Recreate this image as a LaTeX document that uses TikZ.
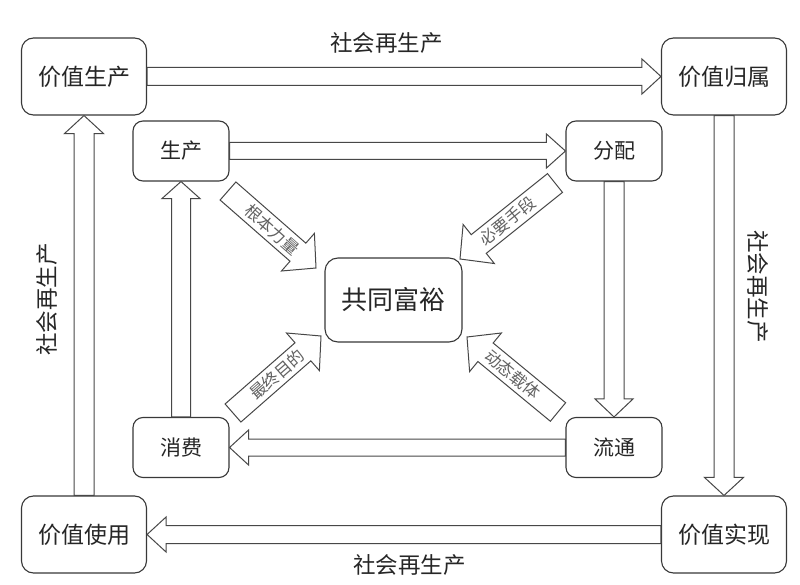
\documentclass[tikz,border=0pt]{standalone}
\usepackage{fontspec}
\setmainfont{Noto Sans CJK SC}
\usetikzlibrary{calc}
\tikzset{
  box/.style={draw=black!78, line width=1.1pt, rounded corners=12pt, fill=white, inner sep=0pt, text=black!85},
  outerbox/.style={box, minimum width=125pt, minimum height=77pt, font=\fontsize{23}{23}\selectfont},
  innerbox/.style={box, rounded corners=10pt, minimum width=96pt, minimum height=60pt, font=\fontsize{21}{21}\selectfont},
  centerbox/.style={box, rounded corners=13pt, minimum width=137pt, minimum height=84pt, font=\fontsize{26}{26}\selectfont},
  harrow/.style={draw=black!72, line width=1pt, fill=white, line join=miter},
  lbl/.style={font=\fontsize{22.5}{22.5}\selectfont, inner sep=0pt, text=black!85},
  arrowtext/.style={font=\fontsize{16.5}{16.5}\selectfont, text=black!62, sloped, inner sep=0pt}
}
\newcommand{\hollowarrow}[5]{%
  \coordinate (hb) at ($(#2)!#5!(#1)$);
  \draw[harrow] ($(#1)!#3!90:(#2)$) -- ($(hb)!#3!-90:(#1)$) -- ($(hb)!#4!-90:(#1)$) -- (#2)
    -- ($(hb)!#4!90:(#1)$) -- ($(hb)!#3!90:(#1)$) -- ($(#1)!#3!-90:(#2)$) -- cycle;
}
\begin{document}
\begin{tikzpicture}[x=1pt,y=-1pt]
\useasboundingbox[fill=white] (0,0) rectangle (800,585);

% outer boxes
\node[outerbox] (vp) at (84,76.5) {价值生产};
\node[outerbox] (vg) at (724,76.5) {价值归属};
\node[outerbox] (vu) at (84,534.5) {价值使用};
\node[outerbox] (vs) at (724,534.5) {价值实现};

% inner boxes
\node[innerbox] (sc) at (181,151) {生产};
\node[innerbox] (fp) at (614,151) {分配};
\node[innerbox] (xf) at (181,447.5) {消费};
\node[innerbox] (lt) at (614,447.5) {流通};

% centre
\node[centerbox] (gt) at (393.5,300) {共同富裕};

% outer arrows
\hollowarrow{vp.east}{vg.west}{9pt}{17.5pt}{19pt}
\hollowarrow{vg.south}{vs.north}{10pt}{19.5pt}{18pt}
\hollowarrow{vs.west}{vu.east}{9pt}{17.5pt}{19pt}
\hollowarrow{vu.north}{vp.south}{10pt}{19.5pt}{18pt}

% inner arrows
\hollowarrow{sc.east}{fp.west}{8.5pt}{17pt}{19pt}
\hollowarrow{fp.south}{lt.north}{10pt}{19pt}{18pt}
\hollowarrow{lt.west}{xf.east}{8.5pt}{17.5pt}{19pt}
\hollowarrow{xf.north}{sc.south}{9.5pt}{19pt}{17pt}

% labels
\node[lbl] (l1) at (386.5,43) {社会再生产};
\node[lbl, rotate=-90] (l2) at (758,286.5) {社会再生产};
\node[lbl] (l3) at (409.5,565) {社会再生产};
\node[lbl, rotate=90] (l4) at (47,299.5) {社会再生产};

% diagonal arrows
\coordinate (a1t) at (228,191); \coordinate (a1p) at (316,268);
\hollowarrow{a1t}{a1p}{12pt}{25pt}{24pt}
\path (a1t) -- (a1p) node[arrowtext, pos=0.5] (t1) {根本力量};

\coordinate (a2t) at (555,183); \coordinate (a2p) at (460,259);
\hollowarrow{a2t}{a2p}{12pt}{25pt}{24pt}
\path (a2t) -- (a2p) node[arrowtext, pos=0.5] (t2) {必要手段};

\coordinate (a3t) at (233,413); \coordinate (a3p) at (321,336);
\hollowarrow{a3t}{a3p}{12pt}{25pt}{24pt}
\path (a3t) -- (a3p) node[arrowtext, pos=0.5] (t3) {最终目的};

\coordinate (a4t) at (558,412); \coordinate (a4p) at (467,337);
\hollowarrow{a4t}{a4p}{12pt}{25pt}{24pt}
\path (a4t) -- (a4p) node[arrowtext, pos=0.5] (t4) {动态载体};
\end{tikzpicture}
\end{document}
